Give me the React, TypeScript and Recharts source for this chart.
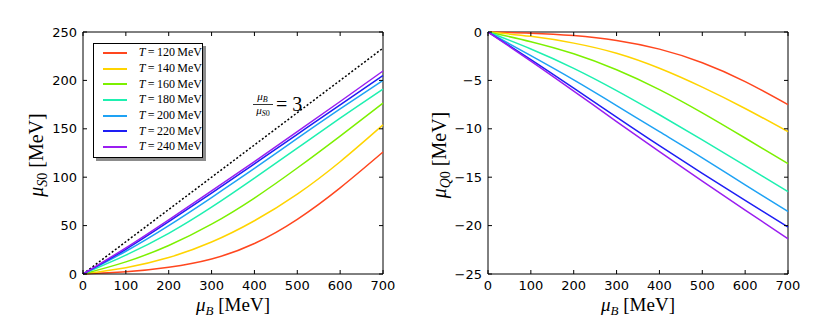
import React from 'react';
import { LineChart, Line, XAxis, YAxis, ReferenceLine, Legend, Label } from 'recharts';

// baryon chemical potential grid (MeV)
const muB = [0, 100, 200, 300, 400, 500, 600, 700];
const temps = [120, 140, 160, 180, 200, 220, 240];
const colors = ['#ff461e', '#ffd400', '#7cf000', '#1ef0b0', '#1ea2f4', '#1e1ef4', '#9a1ef0'];

// mu_S0 for each temperature
const muS120 = [0, 2.2, 7, 15.5, 31.5, 56.5, 89, 126];
const muS140 = [0, 6.5, 17, 33, 55, 82.5, 116, 154];
const muS160 = [0, 12.5, 29.5, 51.5, 78.5, 109.5, 142.5, 176.5];
const muS180 = [0, 19.5, 42, 69, 99, 130, 161, 191];
const muS200 = [0, 23.5, 50, 79, 109, 140, 170.5, 200];
const muS220 = [0, 25.5, 54, 83.5, 113.8, 144.3, 174.8, 205];
const muS240 = [0, 27, 56, 85.8, 116.2, 147, 178.2, 209.7];

// mu_Q0 for each temperature
const muQ120 = [0, -0.12, -0.37, -0.87, -1.77, -3.17, -5.12, -7.5];
const muQ140 = [0, -0.45, -1.15, -2.2, -3.75, -5.7, -7.9, -10.3];
const muQ160 = [0, -1.0, -2.25, -3.9, -5.95, -8.35, -10.95, -13.6];
const muQ180 = [0, -1.75, -3.75, -6.05, -8.55, -11.15, -13.8, -16.5];
const muQ200 = [0, -2.45, -4.95, -7.6, -10.3, -13.0, -15.8, -18.55];
const muQ220 = [0, -2.85, -5.8, -8.8, -11.75, -14.6, -17.4, -20.15];
const muQ240 = [0, -3.0, -6.1, -9.25, -12.35, -15.4, -18.4, -21.35];

// mu_B / mu_S0 = 3 line end points
const ratioLine = [
  { x: 0, y: 0 },
  { x: 700, y: 233.3 },
];

const xTicks = [0, 100, 200, 300, 400, 500, 600, 700];
const sTicks = [0, 50, 100, 150, 200, 250];
const qTicks = [-25, -20, -15, -10, -5, 0];

const sSeries = [muS120, muS140, muS160, muS180, muS200, muS220, muS240];
const qSeries = [muQ120, muQ140, muQ160, muQ180, muQ200, muQ220, muQ240];

const sData = muB.map((b, i) => {
  const row: any = { muB: b };
  temps.forEach((t, k) => (row['T' + t] = sSeries[k][i]));
  return row;
});
const qData = muB.map((b, i) => {
  const row: any = { muB: b };
  temps.forEach((t, k) => (row['T' + t] = qSeries[k][i]));
  return row;
});

const W = 415;
const H = 323;
const TOP = 32;
const BOTTOM = 274;
const TICK = 4;
const tickFont = { fontFamily: 'DejaVu Sans', fontSize: 13, fill: '#000' };
const serif = 'Liberation Serif';

const fmt = (v: number) => (v < 0 ? '\u2212' + Math.abs(v) : String(v));

// inward ticks on bottom and top edge
const bottomTick = (props: any) => (
  <g>
    <line x1={props.x} x2={props.x} y1={BOTTOM} y2={BOTTOM - TICK} stroke="#000" />
    <line x1={props.x} x2={props.x} y1={TOP} y2={TOP + TICK} stroke="#000" />
    <text x={props.x} y={BOTTOM + 16} textAnchor="middle" {...tickFont}>
      {fmt(props.payload.value)}
    </text>
  </g>
);

// inward ticks on left and right edge
const leftTick = (plotLeft: number, plotRight: number) => (props: any) => (
  <g>
    <line x1={plotLeft} x2={plotLeft + TICK} y1={props.y} y2={props.y} stroke="#000" />
    <line x1={plotRight} x2={plotRight - TICK} y1={props.y} y2={props.y} stroke="#000" />
    <text x={plotLeft - 6} y={props.y + 4.5} textAnchor="end" {...tickFont}>
      {fmt(props.payload.value)}
    </text>
  </g>
);

const xLabel = (cx: number) => () => (
  <text x={cx} y={311} textAnchor="middle" fontFamily={serif} fontSize={19} fill="#000">
    <tspan fontStyle="italic">μ</tspan>
    <tspan fontStyle="italic" fontSize={13} dy={4}>B</tspan>
    <tspan dy={-4}> [MeV]</tspan>
  </text>
);

const yLabel = (bx: number, sub: string) => () => (
  <text
    x={bx}
    y={155}
    transform={`rotate(-90 ${bx} 155)`}
    textAnchor="middle"
    fontFamily={serif}
    fontSize={20}
    fill="#000"
  >
    <tspan fontStyle="italic">μ</tspan>
    <tspan fontStyle="italic" fontSize={14} dy={4}>{sub}</tspan>
    <tspan fontSize={14}>0</tspan>
    <tspan dy={-4}> [MeV]</tspan>
  </text>
);

const LegendBox = () => (
  <div
    style={{
      width: 108,
      height: 112,
      border: '1px solid #000',
      background: '#fff',
      boxShadow: '3px 3px 0 #8c8c8c',
      paddingTop: 1,
      boxSizing: 'content-box',
    }}
  >
    {temps.map((t, k) => (
      <div key={t} style={{ display: 'flex', alignItems: 'center', height: 15.7 }}>
        <div style={{ marginLeft: 9, width: 26, height: 2, background: colors[k] }} />
        <span style={{ marginLeft: 12, fontFamily: serif, fontSize: 12, color: '#000', whiteSpace: 'nowrap' }}>
          <i>T</i>
          {'\u2009=\u2009'}
          {t}
          {'\u2009MeV'}
        </span>
      </div>
    ))}
  </div>
);

const App: React.FC = () => {
  return (
    <div style={{ position: 'absolute', left: 0, top: 0, width: 830, height: 323, background: '#fff' }}>
      <div style={{ position: 'absolute', left: 0, top: 0 }}>
        <LineChart width={W} height={H} data={sData} margin={{ top: TOP, right: 32, bottom: 0, left: 0 }}>
          <XAxis
            dataKey="muB"
            type="number"
            domain={[0, 700]}
            ticks={xTicks}
            height={H - BOTTOM}
            tickLine={false}
            tick={bottomTick}
            axisLine={{ stroke: '#000' }}
          >
            <Label content={xLabel(233)} />
          </XAxis>
          <YAxis
            type="number"
            domain={[0, 250]}
            ticks={sTicks}
            width={83}
            tickLine={false}
            tick={leftTick(83, 383)}
            axisLine={{ stroke: '#000' }}
          >
            <Label content={yLabel(43, 'S')} />
          </YAxis>
          <ReferenceLine y={250} stroke="#000" strokeWidth={1} />
          <ReferenceLine x={700} stroke="#000" strokeWidth={1} />
          <ReferenceLine
            segment={ratioLine}
            stroke="#000"
            strokeWidth={1.5}
            strokeDasharray="2 2"
            ifOverflow="visible"
          />
          {temps.map((t, k) => (
            <Line
              key={t}
              dataKey={'T' + t}
              type="natural"
              stroke={colors[k]}
              strokeWidth={1.5}
              dot={false}
              isAnimationActive={false}
            />
          ))}
          <Legend
            layout="horizontal"
            verticalAlign="middle"
            align="center"
            wrapperStyle={{ left: 93, top: 43, width: 112 }}
            content={() => <LegendBox />}
          />
        </LineChart>
      </div>
      <svg style={{ position: 'absolute', left: 0, top: 0 }} width={415} height={323} pointerEvents="none">
        <text x={262.5} y={100} textAnchor="middle" fontFamily={serif} fontSize={11} fill="#000">
          <tspan fontStyle="italic">μ</tspan>
          <tspan fontStyle="italic" fontSize={8} dy={1.5}>B</tspan>
        </text>
        <line x1={253} x2={273} y1={104.5} y2={104.5} stroke="#000" strokeWidth={0.8} />
        <text x={263} y={114} textAnchor="middle" fontFamily={serif} fontSize={11} fill="#000">
          <tspan fontStyle="italic">μ</tspan>
          <tspan fontStyle="italic" fontSize={8} dy={1.5}>S</tspan>
          <tspan fontSize={8}>0</tspan>
        </text>
        <text x={276} y={111} fontFamily={serif} fontSize={20} fill="#000">
          = 3
        </text>
      </svg>
      <div style={{ position: 'absolute', left: 415, top: 0 }}>
        <LineChart width={W} height={H} data={qData} margin={{ top: TOP, right: 42, bottom: 0, left: 0 }}>
          <XAxis
            dataKey="muB"
            type="number"
            domain={[0, 700]}
            ticks={xTicks}
            height={H - BOTTOM}
            tickLine={false}
            tick={bottomTick}
            axisLine={{ stroke: '#000' }}
          >
            <Label content={xLabel(223)} />
          </XAxis>
          <YAxis
            type="number"
            domain={[-25, 0]}
            ticks={qTicks}
            width={73}
            tickLine={false}
            tick={leftTick(73, 373)}
            axisLine={{ stroke: '#000' }}
          >
            <Label content={yLabel(31, 'Q')} />
          </YAxis>
          <ReferenceLine y={0} stroke="#000" strokeWidth={1} />
          <ReferenceLine x={700} stroke="#000" strokeWidth={1} />
          {temps.map((t, k) => (
            <Line
              key={t}
              dataKey={'T' + t}
              type="natural"
              stroke={colors[k]}
              strokeWidth={1.5}
              dot={false}
              isAnimationActive={false}
            />
          ))}
        </LineChart>
      </div>
    </div>
  );
};

export default App;
